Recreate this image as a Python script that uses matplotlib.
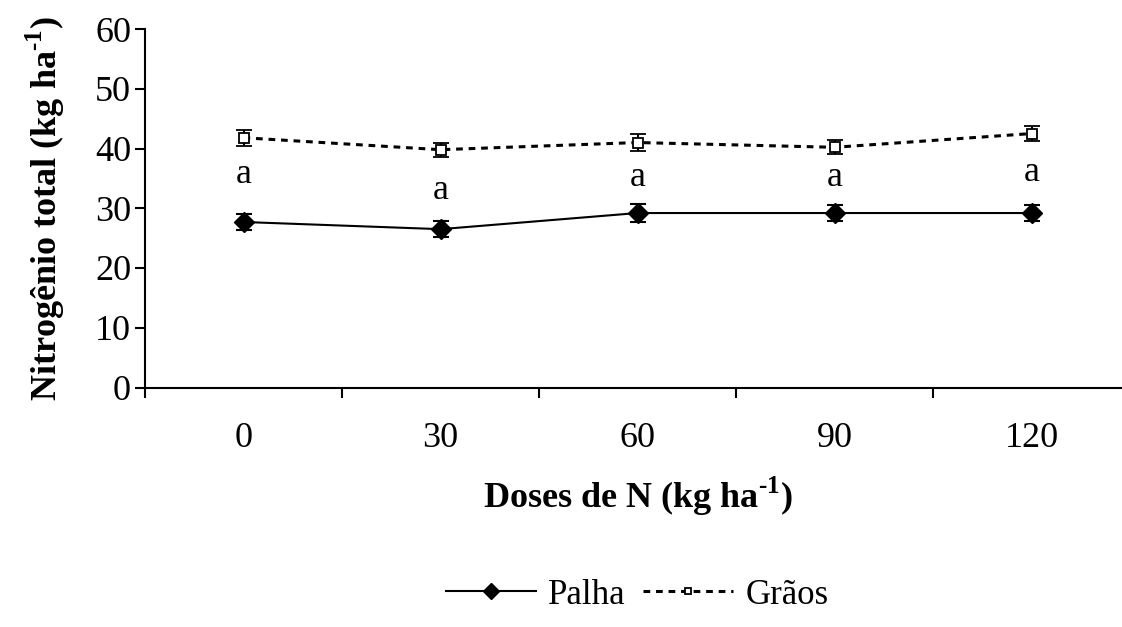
import matplotlib
matplotlib.use("Agg")
import matplotlib.pyplot as plt
from matplotlib.lines import Line2D
import numpy as np

plt.rcParams['font.family'] = ['Liberation Serif', 'DejaVu Serif']
plt.rcParams['mathtext.fontset'] = 'custom'
plt.rcParams['mathtext.rm'] = 'Liberation Serif:bold'
plt.rcParams['mathtext.bf'] = 'Liberation Serif:bold'

doses = ['0', '30', '60', '90', '120']
palha = [27.7, 26.5, 29.2, 29.2, 29.2]
palha_err = [1.4, 1.3, 1.5, 1.4, 1.4]
graos = [41.8, 39.8, 41.0, 40.2, 42.5]
graos_err = [1.3, 1.2, 1.4, 1.2, 1.3]
letras = ['a', 'a', 'a', 'a', 'a']
letras_y = [35.6, 33.0, 35.1, 35.2, 35.9]

fs = 26
fig = plt.figure(figsize=(11.22, 6.27), dpi=100)
ax = fig.add_axes([145/1122, 1-387.5/627, 985/1122, 358.5/627])

x = np.arange(len(doses))

palha_style = dict(color='black', lw=1.5, marker='D', ms=10, mfc='black', mec='black')
graos_style = dict(color='black', lw=2.2, linestyle=(0, (2.2, 1.9)), marker='s',
                   ms=6.5, mfc='white', mec='black', mew=1.3)

ax.errorbar(x, palha, yerr=palha_err, ecolor='black', elinewidth=1.5,
            capsize=6, capthick=1.5, zorder=3, **palha_style)
ax.errorbar(x, graos, yerr=graos_err, ecolor='black', elinewidth=1.5,
            capsize=6, capthick=1.5, zorder=3, **graos_style)

for xi, lt, ly in zip(x, letras, letras_y):
    ax.text(xi, ly, lt, ha='center', va='center', fontsize=fs)

ax.set_xlim(-0.5, len(doses) - 0.5)
ax.set_ylim(0, 60)
ax.set_yticks(range(0, 61, 10))
ax.set_xticks(x)
ax.set_xticklabels(doses)
ax.set_xticks(np.arange(-0.5, len(doses), 1.0), minor=True)
ax.tick_params(axis='x', which='major', length=0, pad=25, labelsize=fs)
ax.tick_params(axis='x', which='minor', length=7, width=1.5, direction='out')
ax.tick_params(axis='y', length=7, width=1.5, direction='out', pad=3, labelsize=fs)

for s in ['top', 'right']:
    ax.spines[s].set_visible(False)
for s in ['left', 'bottom']:
    ax.spines[s].set_linewidth(1.5)

ax.set_ylabel(r'Nitrogênio total (kg ha$^{\text{-1}}$)', fontsize=fs,
              fontweight='bold', labelpad=20)
ax.set_xlabel(r'Doses de N (kg ha$^{\text{-1}}$)', fontsize=fs,
              fontweight='bold', labelpad=14)

handles = [Line2D([], [], **{**palha_style, 'ms': 8}),
           Line2D([], [], **{**graos_style, 'ms': 5})]
fig.legend(handles, ['Palha', 'Grãos'], loc='center',
           bbox_to_anchor=(637/1122, 1-595/627), ncol=2, frameon=False,
           fontsize=25, handlelength=2.6, columnspacing=0.5, handletextpad=0.35)

fig.savefig('out.png', dpi=100)
